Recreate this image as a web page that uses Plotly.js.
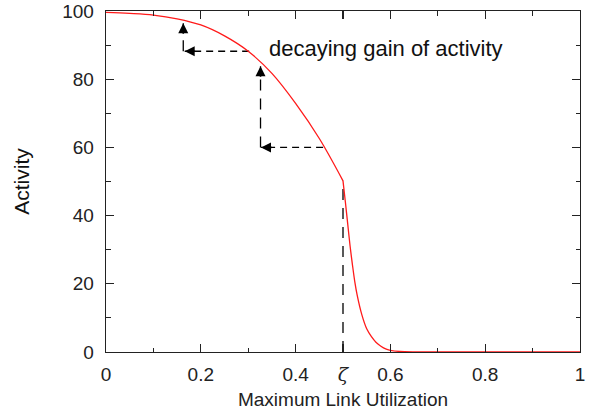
<!DOCTYPE html>
<html>
<head>
<meta charset="utf-8">
<script src="https://cdn.plot.ly/plotly-3.0.1.min.js"></script>
<style>html,body{margin:0;padding:0;background:#fff;}</style>
</head>
<body>
<div id="chart" style="width:605px;height:419px;"></div>
<script>
// Activity curve: smooth decay up to zeta, then steep fall
const utilizationDecay = [0, 0.05, 0.1, 0.15, 0.2, 0.25, 0.3, 0.35, 0.4, 0.45, 0.5];
const activityDecay = [99.6, 99.3, 98.8, 97.7, 95.9, 92.7, 88.2, 81.7, 72.9, 62.6, 50.2];
const utilizationDrop = [0.5, 0.505, 0.51, 0.515, 0.52, 0.525, 0.53, 0.54, 0.55, 0.56, 0.57, 0.58, 0.59, 0.6, 0.62, 0.65, 0.7, 0.8, 0.9, 1.0];
const activityDrop = [50.2, 44.0, 37.5, 31.0, 25.5, 20.5, 16.6, 10.8, 6.8, 4.5, 2.8, 1.7, 0.9, 0.5, 0.15, 0.03, 0, 0, 0, 0];

// x tick labels
const xTickVals = [0, 0.2, 0.4, 0.5, 0.6, 0.8, 1];
const xTickText = ['0', '0.2', '0.4', '<span style="font-family:\'DejaVu Serif\'"><i>ζ</i></span>', '0.6', '0.8', '1'];
const xMinorVals = [0.1, 0.3, 0.7, 0.9];

// dashed guide segments (null separates segments)
const hGuideX = [0.458, 0.327, null, 0.302, 0.166];
const hGuideY = [60, 60, null, 88.2, 88.2];
const vGuideX = [0.5, 0.5, null, 0.326, 0.326, null, 0.163, 0.163];
const vGuideY = [0, 50.2, null, 60, 83.8, null, 88.2, 96.4];

// arrow tips and directions
const arrowTipX = [0.327, 0.326, 0.166, 0.163];
const arrowTipY = [60, 83.8, 88.2, 96.4];
const arrowDir = ['left', 'up', 'left', 'up'];

const labelText = 'decaying gain of activity';
const labelX = 0.34;
const labelY = 89.0;

const font = "Liberation Sans, Arial, Helvetica, sans-serif";

const traces = [
  {x: hGuideX, y: hGuideY, mode: 'lines', line: {color: '#000', width: 1.3, dash: '7px,5px'}, hoverinfo: 'skip', showlegend: false},
  {x: vGuideX, y: vGuideY, mode: 'lines', line: {color: '#000', width: 1.3, dash: '11px,8px'}, hoverinfo: 'skip', showlegend: false},
  {x: utilizationDecay, y: activityDecay, mode: 'lines', line: {color: '#ff1a1a', width: 1.3, shape: 'spline', smoothing: 1}, hoverinfo: 'skip', showlegend: false},
  {x: utilizationDrop, y: activityDrop, mode: 'lines', line: {color: '#ff1a1a', width: 1.3, shape: 'spline', smoothing: 0.8}, hoverinfo: 'skip', showlegend: false}
];

const annotations = arrowTipX.map((x, i) => ({
  x: x, y: arrowTipY[i], xref: 'x', yref: 'y', text: '',
  showarrow: true, arrowhead: 2, arrowsize: 1.25, arrowwidth: 1.6, arrowcolor: '#000',
  ax: arrowDir[i] === 'left' ? 12 : 0, ay: arrowDir[i] === 'up' ? 12 : 0
}));
annotations.push({
  x: labelX, y: labelY, xref: 'x', yref: 'y', text: labelText, showarrow: false,
  xanchor: 'left', yanchor: 'middle', font: {family: font, size: 22, color: '#111'}
});

const axisCommon = {
  showline: true, linecolor: '#222', linewidth: 1.3, mirror: 'ticks',
  ticks: 'inside', ticklen: 8, tickwidth: 1.2, tickcolor: '#222',
  showgrid: false, zeroline: false,
  tickfont: {family: font, size: 19, color: '#222'}
};

const layout = {
  width: 605, height: 419,
  margin: {l: 106, r: 25, t: 11, b: 67},
  paper_bgcolor: '#fff', plot_bgcolor: '#fff',
  showlegend: false,
  xaxis: Object.assign({}, axisCommon, {
    range: [0, 1], tickmode: 'array', tickvals: xTickVals, ticktext: xTickText,
    ticklabelstandoff: 5,
    minor: {tickmode: 'array', tickvals: xMinorVals, ticks: 'inside', ticklen: 4.5, tickwidth: 1.2, tickcolor: '#222', showgrid: false},
    title: {text: 'Maximum Link Utilization', font: {family: font, size: 19, color: '#222'}, standoff: 8}
  }),
  yaxis: Object.assign({}, axisCommon, {
    range: [0, 100], tickmode: 'linear', tick0: 0, dtick: 20,
    ticklabelstandoff: 7,
    minor: {dtick: 10, ticks: 'inside', ticklen: 4.5, tickwidth: 1.2, tickcolor: '#222', showgrid: false},
    title: {text: 'Activity', font: {family: font, size: 21, color: '#111'}, standoff: 26}
  }),
  annotations: annotations
};

Plotly.newPlot('chart', traces, layout, {staticPlot: true, displayModeBar: false});
</script>
</body>
</html>
